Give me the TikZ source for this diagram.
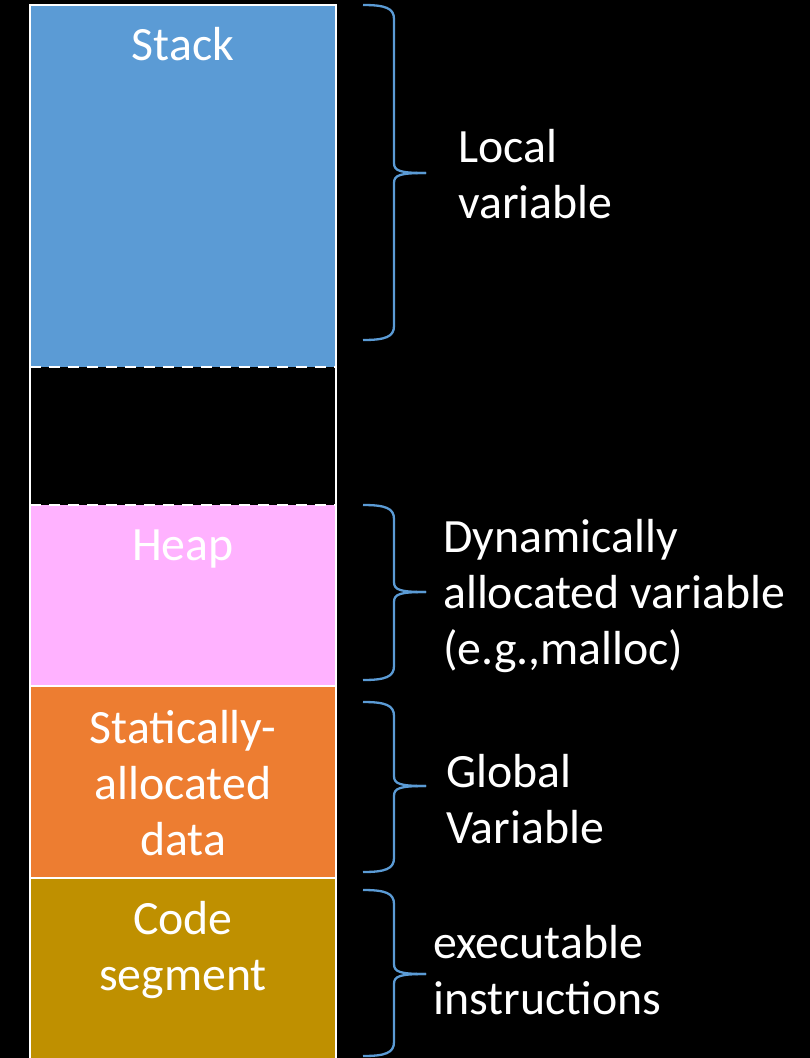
\documentclass[tikz,border=0pt]{standalone}
\usepackage{fontspec}
\setmainfont{Carlito}
\usepackage{tikz}
\usetikzlibrary{positioning}
\definecolor{stackblue}{RGB}{91, 155, 213}
\definecolor{heappink}{RGB}{255, 178, 255}
\definecolor{staticorange}{RGB}{237, 125, 49}
\definecolor{codegold}{RGB}{191, 144, 0}

% brace: top, tip, bottom (y grows downwards)
\newcommand{\regionbrace}[3]{%
\draw[bracestyle] (363,#1) .. controls (385,#1) and (394,{#1+3}) .. (394,{#1+14})
  -- (394,{#2-10}) .. controls (394,{#2-2}) and (400,#2) .. (426,#2);
\draw[bracestyle] (426,#2) .. controls (400,#2) and (394,{#2+2}) .. (394,{#2+10})
  -- (394,{#3-14}) .. controls (394,{#3-3}) and (385,#3) .. (363,#3);}

\begin{document}
\begin{tikzpicture}[x=1pt, y=-1pt,
  label/.style={text=white, inner sep=0pt, font=\fontsize{47.8}{56}\selectfont},
  segline/.style={white, line width=2pt},
  bracestyle/.style={stackblue, line width=2.3pt}]
\fill[black] (0,0) rectangle (810,1058);
\useasboundingbox (0,0) rectangle (810,1058);

\begin{scope}
\fill[stackblue] (30,5) rectangle (336,367);
\fill[heappink] (30,505) rectangle (336,686);
\fill[staticorange] (30,686) rectangle (336,878);
\fill[codegold] (30,878) rectangle (336,1062);
\draw[segline] (30,1062) -- (30,5) -- (336,5) -- (336,1062);
\draw[segline, dash pattern=on 11pt off 8pt] (30,367) -- (336,367);
\draw[segline, dash pattern=on 11pt off 8pt] (30,505) -- (336,505);
\draw[segline] (30,686) -- (336,686);
\draw[segline] (30,878) -- (336,878);
\end{scope}

\node[label, anchor=base] (stack) at (183,60) {Stack};
\node[label, anchor=base] (heap) at (183,560) {Heap};
\node[label, align=center] (static) at (183,783) {Statically-\\allocated\\data};
\node[label, align=center] (code) at (183,950) {Code\\segment};

\regionbrace{5}{173}{340}
\regionbrace{505}{592}{680}
\regionbrace{702}{786}{872}
\regionbrace{890}{974}{1056}

\node[label, align=left, anchor=west] (local) at (458,174) {Local\\variable};
\node[label, align=left, anchor=west] (dyn) at (443,596) {Dynamically\\allocated variable\\(e.g.,malloc)};
\node[label, align=left, anchor=west] (global) at (446,799) {Global\\Variable};
\node[label, align=left, anchor=west] (exec) at (433,970) {executable\\instructions};
\end{tikzpicture}
\end{document}
